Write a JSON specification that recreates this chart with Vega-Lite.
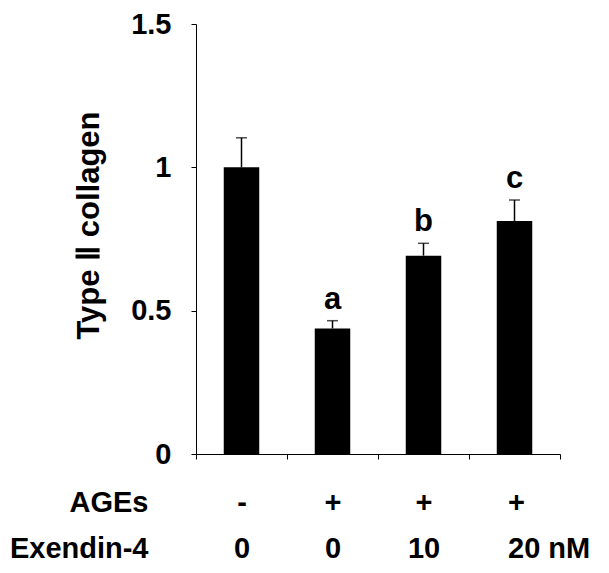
{
  "$schema": "https://vega.github.io/schema/vega-lite/v6.json",
  "width": 364,
  "height": 430,
  "autosize": {"type": "none"},
  "padding": {"left": 196, "top": 24, "right": 49, "bottom": 119},
  "background": "white",
  "config": {
    "view": {"stroke": null},
    "font": "Liberation Sans",
    "axis": {"grid": false, "domainColor": "black", "tickColor": "black", "labelColor": "black", "titleColor": "black", "labelFont": "Liberation Sans", "titleFont": "Liberation Sans", "labelFontWeight": "bold", "titleFontWeight": "bold"}
  },
  "data": {
    "values": [
      {"group": "-|0", "value": 1.0, "err": 1.103, "letter": ""},
      {"group": "+|0", "value": 0.438, "err": 0.465, "letter": "a"},
      {"group": "+|10", "value": 0.692, "err": 0.735, "letter": "b"},
      {"group": "+|20 nM", "value": 0.813, "err": 0.886, "letter": "c"}
    ]
  },
  "encoding": {
    "x": {
      "field": "group",
      "type": "nominal",
      "sort": null,
      "scale": {"paddingInner": 0, "paddingOuter": 0},
      "axis": {
        "title": ["AGEs", "Exendin-4"],
        "titleFontSize": 29,
        "titleAlign": "right",
        "titleAnchor": "start",
        "titleBaseline": "alphabetic",
        "titleX": -48,
        "titleY": 57,
        "titleLineHeight": 46,
        "labelAngle": 0,
        "labelExpr": "split(datum.label, '|')",
        "labelFontSize": 29,
        "labelLineHeight": 46,
        "labelBaseline": "alphabetic",
        "labelPadding": 52,
        "labelAlign": {"condition": {"test": "datum.value === '+|20 nM'", "value": "left"}, "value": "center"},
        "labelOffset": {"condition": {"test": "datum.value === '+|20 nM'", "value": -7}, "value": 0},
        "tickBand": "extent",
        "tickSize": 5,
        "domainWidth": 1,
        "tickWidth": 1
      }
    }
  },
  "layer": [
    {
      "mark": {"type": "bar", "color": "black", "width": {"band": 0.39}},
      "encoding": {
        "y": {
          "field": "value",
          "type": "quantitative",
          "scale": {"domain": [0, 1.5], "nice": false},
          "axis": {
            "title": "Type Ⅱ collagen",
            "titleFontSize": 31,
            "titleBaseline": "alphabetic",
            "titleX": -98,
            "titleY": 201,
            "values": [0, 0.5, 1, 1.5],
            "labelExpr": "datum.value",
            "labelFontSize": 29,
            "labelPadding": 20,
            "tickSize": 5,
            "domainWidth": 1,
            "tickWidth": 1
          }
        }
      }
    },
    {
      "mark": {"type": "rule", "color": "black", "strokeWidth": 1.5},
      "encoding": {
        "y": {"field": "value", "type": "quantitative"},
        "y2": {"field": "err"}
      }
    },
    {
      "mark": {"type": "tick", "color": "black", "thickness": 1.5, "size": 11},
      "encoding": {
        "y": {"field": "err", "type": "quantitative"}
      }
    },
    {
      "mark": {"type": "text", "fontSize": 31, "fontWeight": "bold", "baseline": "alphabetic", "dy": -12, "color": "black"},
      "encoding": {
        "y": {"field": "err", "type": "quantitative"},
        "text": {"field": "letter"}
      }
    }
  ]
}
